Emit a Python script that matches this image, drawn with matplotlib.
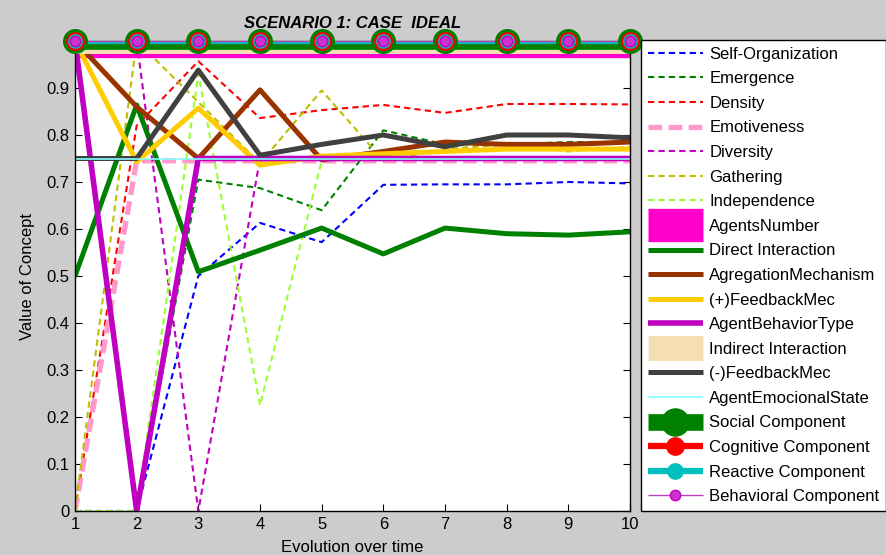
import matplotlib
matplotlib.use('Agg')
import matplotlib.pyplot as plt
from matplotlib.lines import Line2D

plt.rcParams['font.family'] = ['Liberation Sans', 'DejaVu Sans']

# ---------------- data ----------------
time = [1, 2, 3, 4, 5, 6, 7, 8, 9, 10]
self_organization = [0, 0, 0.50, 0.613, 0.572, 0.694, 0.695, 0.695, 0.70, 0.697]
emergence = [0, 0, 0.705, 0.687, 0.64, 0.81, 0.78, 0.78, 0.785, 0.785]
density = [0, 0.82, 0.957, 0.836, 0.853, 0.864, 0.847, 0.866, 0.866, 0.865]
emotiveness = [0, 0.745, 0.745, 0.745, 0.745, 0.745, 0.745, 0.745, 0.745, 0.745]
diversity = [1.0, 1.0, 0, 0.75, 0.75, 0.75, 0.75, 0.75, 0.75, 0.75]
gathering = [0, 1.0, 0.87, 0.74, 0.895, 0.745, 0.77, 0.78, 0.765, 0.775]
independence = [0, 0, 0.93, 0.225, 0.745, 0.75, 0.75, 0.75, 0.75, 0.75]
agents_number = [1, 1, 1, 1, 1, 1, 1, 1, 1, 1]
direct_interaction = [0.5, 0.864, 0.509, 0.555, 0.602, 0.547, 0.602, 0.59, 0.587, 0.594]
agregation_mechanism = [1.0, 0.86, 0.75, 0.896, 0.747, 0.765, 0.785, 0.78, 0.78, 0.785]
pos_feedback = [1.0, 0.743, 0.857, 0.736, 0.755, 0.76, 0.765, 0.77, 0.77, 0.77]
agent_behavior_type = [1.0, 0, 0.75, 0.75, 0.75, 0.75, 0.75, 0.75, 0.75, 0.75]
indirect_interaction = [1, 1, 1, 1, 1, 1, 1, 1, 1, 1]
neg_feedback = [0.75, 0.75, 0.938, 0.757, 0.78, 0.80, 0.775, 0.80, 0.80, 0.794]
agent_emotional_state = [0.75, 0.75, 0.75, 0.75, 0.75, 0.75, 0.75, 0.75, 0.75, 0.75]
social_component = [1, 1, 1, 1, 1, 1, 1, 1, 1, 1]
cognitive_component = [1, 1, 1, 1, 1, 1, 1, 1, 1, 1]
reactive_component = [1, 1, 1, 1, 1, 1, 1, 1, 1, 1]
behavioral_component = [1, 1, 1, 1, 1, 1, 1, 1, 1, 1]

x_ticks = [1, 2, 3, 4, 5, 6, 7, 8, 9, 10]
y_ticks = [0, 0.1, 0.2, 0.3, 0.4, 0.5, 0.6, 0.7, 0.8, 0.9]
y_tick_labels = ['0', '0.1', '0.2', '0.3', '0.4', '0.5', '0.6', '0.7', '0.8', '0.9']

# ---------------- figure ----------------
W, H = 886, 555
fig = plt.figure(figsize=(W / 100, H / 100), dpi=100, facecolor='#cccccc')
ax = fig.add_axes([75 / W, 44 / H, 555 / W, 470 / H])
ax.set_facecolor('white')

thin = dict(lw=1.5, ls=(0, (3, 2)))
series = [
    (self_organization, 'Self-Organization', dict(color='#0000ff', **thin)),
    (emergence, 'Emergence', dict(color='#008000', **thin)),
    (density, 'Density', dict(color='#ff0000', **thin)),
    (emotiveness, 'Emotiveness', dict(color='#ff99cc', lw=3.8, ls=(0, (2.6, 1.2)))),
    (diversity, 'Diversity', dict(color='#bf00bf', **thin)),
    (gathering, 'Gathering', dict(color='#bfbf00', **thin)),
    (independence, 'Independence', dict(color='#99ff33', **thin)),
    (agents_number, 'AgentsNumber', dict(color='#ff00cc', lw=24)),
    (direct_interaction, 'Direct Interaction', dict(color='#008000', lw=3.6)),
    (agregation_mechanism, 'AgregationMechanism', dict(color='#993300', lw=3.6)),
    (pos_feedback, '(+)FeedbackMec', dict(color='#ffcc00', lw=3.6)),
    (agent_behavior_type, 'AgentBehaviorType', dict(color='#c000c0', lw=4.0)),
    (indirect_interaction, 'Indirect Interaction', dict(color='#f5deb3', lw=18)),
    (neg_feedback, '(-)FeedbackMec', dict(color='#404040', lw=3.6)),
    (agent_emotional_state, 'AgentEmocionalState', dict(color='#80ffff', lw=1.2)),
]

handles = []
labels = []
for z, (vals, lab, st) in enumerate(series):
    ln, = ax.plot(time, vals, zorder=2 + z * 0.01, solid_capstyle='butt',
                  dash_capstyle='butt', **st)
    handles.append(ln)
    labels.append(lab)

components = [
    (social_component, 'Social Component', '#008000', 12, 17, 19.5, '#008000', '#008000'),
    (cognitive_component, 'Cognitive Component', '#ff0000', 4.5, 12.5, 12.5, '#ff0000', '#ff0000'),
    (reactive_component, 'Reactive Component', '#00bfbf', 4.5, 9.5, 11, '#00bfbf', '#00bfbf'),
    (behavioral_component, 'Behavioral Component', '#bf40bf', 1.0, 7.5, 7.5, '#cc33cc', '#bf00bf'),
]
for k, (vals, lab, col, lw, ms, lms, mfc, mec) in enumerate(components):
    ax.plot(time, vals, color=col, lw=lw, zorder=3 + k * 0.01, solid_capstyle='butt')
    ax.plot(time, vals, ls='none', marker='o', ms=ms, mfc=mfc, mec=mec,
            clip_on=False, zorder=5 + k * 0.01)
    handles.append(Line2D([], [], color=col, lw=lw, marker='o', ms=lms,
                          mfc=mfc, mec=mec, solid_capstyle='butt'))
    labels.append(lab)

ax.set_xlim(1, 10)
ax.set_ylim(0, 1)
ax.set_xticks(x_ticks)
ax.set_yticks(y_ticks)
ax.set_yticklabels(y_tick_labels)
ax.tick_params(direction='in', length=5, top=True, right=True, labelsize=12,
               colors='black', pad=4)
for sp in ax.spines.values():
    sp.set_color('black')
    sp.set_linewidth(1)

ax.set_title('SCENARIO 1: CASE  IDEAL', fontsize=12, fontweight='bold',
             fontstyle='italic', pad=9)
ax.set_xlabel('Evolution over time', fontsize=12, labelpad=6)
ax.set_ylabel('Value of Concept', fontsize=12, labelpad=8)

leg = fig.legend(handles, labels, loc='upper left',
                 bbox_to_anchor=(641 / W, (H - 40) / H),
                 bbox_transform=fig.transFigure,
                 frameon=True, fancybox=False, edgecolor='black',
                 facecolor='white', framealpha=1, fontsize=12,
                 handlelength=3.3, handletextpad=0.4, labelspacing=0.575,
                 borderpad=0.4, borderaxespad=0, numpoints=1)
leg.get_frame().set_linewidth(1)

fig.savefig('out.png', dpi=100, facecolor=fig.get_facecolor())
